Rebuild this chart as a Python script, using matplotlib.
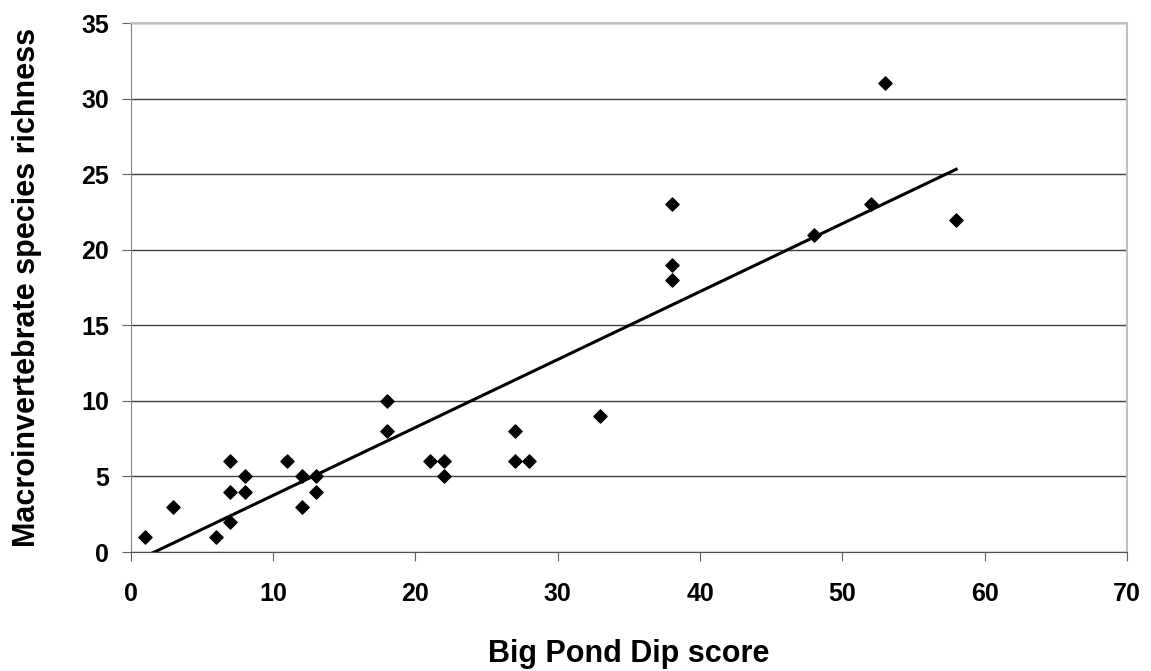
"""
Macroinvertebrate species richness vs Big Pond Dip score
"""
import numpy as np
import matplotlib.pyplot as plt

plt.rcParams['font.family'] = ['Liberation Sans', 'DejaVu Sans']
plt.rcParams['font.weight'] = 'bold'

dip_score = [1, 3, 6, 7, 7, 7, 8, 8, 11, 12, 12, 13, 13, 18, 18, 21, 22, 22,
             27, 27, 28, 33, 38, 38, 38, 48, 52, 53, 58]
richness = [1, 3, 1, 6, 4, 2, 5, 4, 6, 5, 3, 5, 4, 10, 8, 6, 6, 5,
            8, 6, 6, 9, 23, 19, 18, 21, 23, 31, 22]

fig = plt.figure(figsize=(11.51, 6.71), dpi=100)
ax = fig.add_axes([0.1136, 0.1773, 0.8655, 0.7884])

ax.scatter(dip_score, richness, marker='D', s=45, color='black', zorder=3)

# linear trendline over the data range
slope, intercept = np.polyfit(dip_score, richness, 1)
xt = np.array([min(dip_score), max(dip_score)])
ax.plot(xt, slope * xt + intercept, color='black', lw=2.2, zorder=2)

ax.set_xlim(0, 70)
ax.set_ylim(0, 35)
ax.set_xticks(range(0, 71, 10))
ax.set_yticks(range(0, 36, 5))
ax.yaxis.grid(True, color='#404040', lw=1)
ax.set_axisbelow(True)

# plot area border: light grey on top/right
ax.spines['top'].set_color('#c0c0c0')
ax.spines['right'].set_color('#c0c0c0')
ax.spines['top'].set_linewidth(1.5)
ax.spines['right'].set_linewidth(1.5)
ax.spines['left'].set_color('#808080')
ax.spines['bottom'].set_color('#505050')
ax.tick_params(direction='out', length=6.5, color='#606060', labelsize=18)
ax.tick_params(axis='x', pad=15)
ax.tick_params(axis='y', pad=9)

ax.set_xlabel('Big Pond Dip score', fontsize=22, fontweight='bold')
ax.xaxis.set_label_coords(0.5, -0.165)
ax.set_ylabel('Macroinvertebrate species richness', fontsize=22, fontweight='bold')
ax.yaxis.set_label_coords(-0.089, 0.5)

plt.savefig('out.png')
